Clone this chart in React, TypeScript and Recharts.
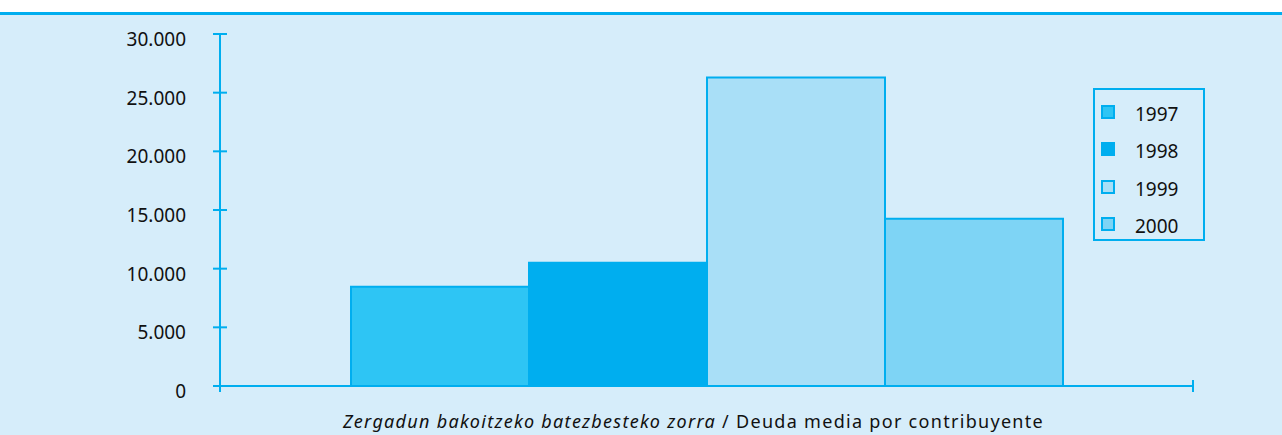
import { Bar, BarChart, Legend, XAxis, YAxis } from 'recharts';

const categories = ['Deuda media por contribuyente'];
const years = ['1997', '1998', '1999', '2000'];
const values1997 = [8450];
const values1998 = [10500];
const values1999 = [26300];
const values2000 = [14250];
const yTicks = [0, 5000, 10000, 15000, 20000, 25000, 30000];

const COLORS = ['#2ec5f4', '#00aeef', '#a9dff7', '#7ed4f5'];
const LINE = '#00aeef';
const BG = '#d6edfa';
const FONT = '"Noto Sans", "Open Sans", sans-serif';

const series = [values1997, values1998, values1999, values2000];

const data = categories.map((name, i) => {
    const row: any = { name };
    years.forEach((y, k) => {
        row['y' + y] = series[k][i];
    });
    return row;
});

const fmt = (v: number) => String(v).replace(/\B(?=(\d{3})+(?!\d))/g, '.');

const YTick = (props: any) => {
    const { x, y, payload } = props;
    return (
        <g>
            <line x1={x - 7} x2={x + 7} y1={y} y2={y} stroke={LINE} strokeWidth={2} />
            {payload.value === 0 && <line x1={x} x2={x} y1={y} y2={y + 6} stroke={LINE} strokeWidth={2} />}
            <text x={x - 34} y={y + 5} dy="0.36em" textAnchor="end" fontFamily={FONT} fontSize={19} fill="#111">
                {fmt(payload.value)}
            </text>
        </g>
    );
};

const Caption = (props: any) => {
    const { x, y, width } = props.viewBox;
    return (
        <g>
            <line x1={x + width} x2={x + width} y1={y - 6} y2={y + 6} stroke={LINE} strokeWidth={2} />
            <text
                x={x + width / 2 - 13}
                y={y + 42}
                textAnchor="middle"
                fontFamily={FONT}
                fontSize={18}
                letterSpacing={1.3}
                fill="#111"
            >
                <tspan fontStyle="italic">Zergadun bakoitzeko batezbesteko zorra</tspan>
                <tspan> / Deuda media por contribuyente</tspan>
            </text>
        </g>
    );
};

const LegendBox = (props: any) => {
    const { payload } = props;
    return (
        <div
            style={{
                width: 112,
                height: 153,
                boxSizing: 'border-box',
                border: `2px solid ${LINE}`,
                paddingTop: 3,
                fontFamily: FONT,
                fontSize: 19,
                color: '#111',
            }}
        >
            {(payload || []).map((item: any, i: number) => (
                <div key={i} style={{ height: 37.5, display: 'flex', alignItems: 'center' }}>
                    <span
                        style={{
                            display: 'inline-block',
                            width: 14,
                            height: 14,
                            boxSizing: 'border-box',
                            marginLeft: 6,
                            border: `2px solid ${LINE}`,
                            background: item.color,
                        }}
                    />
                    <span style={{ marginLeft: 20, marginTop: 4 }}>{item.value}</span>
                </div>
            ))}
        </div>
    );
};

const App = () => {
    return (
        <div style={{ position: 'fixed', left: 0, top: 0, width: 1282, height: 435, background: '#fff' }}>
            <div style={{ position: 'absolute', left: 0, top: 12, width: 1282, height: 3, background: LINE }} />
            <div style={{ position: 'absolute', left: 0, top: 15, width: 1282, height: 420, background: BG }} />
            <div style={{ position: 'absolute', left: 0, top: 0 }}>
                <BarChart
                    width={1282}
                    height={435}
                    data={data}
                    margin={{ top: 34, right: 89, left: 0, bottom: 0 }}
                    barCategoryGap={131}
                    barGap={0}
                >
                    <YAxis
                        width={220}
                        domain={[0, 30000]}
                        ticks={yTicks}
                        interval={0}
                        tickSize={0}
                        tickMargin={0}
                        tickLine={false}
                        axisLine={{ stroke: LINE, strokeWidth: 2 }}
                        tick={<YTick />}
                    />
                    <XAxis
                        dataKey="name"
                        height={49}
                        tick={false}
                        tickLine={false}
                        axisLine={{ stroke: LINE, strokeWidth: 2 }}
                        label={(p: any) => <Caption {...p} />}
                    />
                    <Legend
                        layout="vertical"
                        align="center"
                        verticalAlign="middle"
                        wrapperStyle={{ left: 1093, top: 88, width: 112, height: 153 }}
                        content={<LegendBox />}
                    />
                    {years.map((y, k) => (
                        <Bar
                            key={y}
                            dataKey={'y' + y}
                            name={y}
                            fill={COLORS[k]}
                            stroke={LINE}
                            strokeWidth={2}
                            isAnimationActive={false}
                        />
                    ))}
                </BarChart>
            </div>
        </div>
    );
};

export default App;
